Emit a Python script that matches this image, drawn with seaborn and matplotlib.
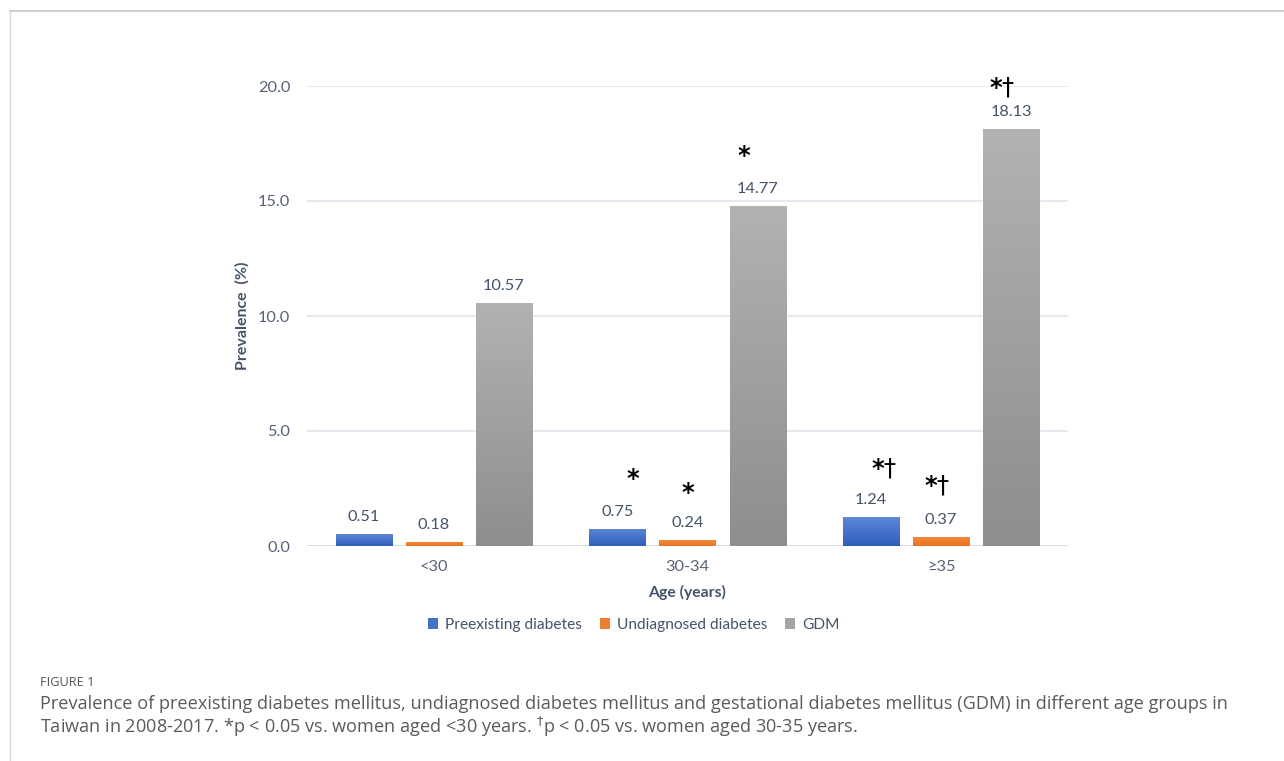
import numpy as np
import pandas as pd
import matplotlib
matplotlib.use("Agg")
import matplotlib.pyplot as plt
import seaborn as sns
from matplotlib.patches import Patch
from matplotlib.lines import Line2D
from matplotlib.colors import LinearSegmentedColormap

# ---- data ----
age_groups = ["<30", "30-34", "≥35"]
series_names = ["Preexisting diabetes", "Undiagnosed diabetes", "GDM"]
preexisting = [0.51, 0.75, 1.24]
undiagnosed = [0.18, 0.24, 0.37]
gdm = [10.57, 14.77, 18.13]
sig_preexisting = ["", "*", "*†"]
sig_undiagnosed = ["", "*", "*†"]
sig_gdm = ["", "*", "*†"]
y_ticks = [0.0, 5.0, 10.0, 15.0, 20.0]

# manual nudges of the significance marks (pixels), as in the original layout
sig_dx = [[0, 16, 13], [0, 1, -4], [0, -14, -9]]
sig_dy = [[0, 52, 49], [0, 49, 52], [0, 52, 42]]

values = [preexisting, undiagnosed, gdm]
sigs = [sig_preexisting, sig_undiagnosed, sig_gdm]
df = pd.DataFrame({
    "Age": [g for s in series_names for g in age_groups],
    "Series": [s for s in series_names for _ in age_groups],
    "Prevalence": [v for vals in values for v in vals],
})

base_colors = ["#4472C4", "#ED7D31", "#A5A5A5"]
grad_colors = [("#5C88D6", "#2E5EBD"), ("#F4893A", "#EC7320"), ("#B2B2B2", "#8E8E8E")]

sns.set_theme(style="white")
plt.rcParams["font.family"] = ["Lato", "DejaVu Sans"]

fig = plt.figure(figsize=(12.84, 7.61), dpi=100)
ax = fig.add_axes([307 / 1284, 1 - 546 / 761, (1068 - 307) / 1284, (546 - 86) / 761])

sns.barplot(data=df, x="Age", y="Prevalence", hue="Series", order=age_groups,
            hue_order=series_names, palette=base_colors, width=0.83, gap=0.2,
            ax=ax, legend=False, saturation=1.0, zorder=3)

ax.set_ylim(0, 20)
ax.set_xlim(-0.5, 2.5)
ax.set_yticks(y_ticks)
ax.set_yticklabels([f"{t:.1f}" for t in y_ticks])
for sp in ax.spines.values():
    sp.set_visible(False)
ax.grid(False)
for t in y_ticks:
    ax.axhline(t, color="#D5DAE3" if t == 0 else "#E3E7EE", lw=1.3, zorder=1)

tick_color = "#586378"
ax.tick_params(axis="both", length=0, labelsize=11.8, colors=tick_color)
ax.tick_params(axis="y", pad=12)
ax.tick_params(axis="x", pad=10)
ax.set_xlabel("Age (years)", fontsize=11.3, fontweight="bold", color="#44546A", labelpad=8)
ax.set_ylabel("Prevalence  (%)", fontsize=11.5, fontweight="bold", color="#44546A", labelpad=6)

# gradients + labels
for ci, cont in enumerate(ax.containers):
    cmap = LinearSegmentedColormap.from_list("g", [grad_colors[ci][1], grad_colors[ci][0]])
    for bi, bar in enumerate(cont):
        x0, y0 = bar.get_x(), bar.get_y()
        w, h = bar.get_width(), bar.get_height()
        grad = np.linspace(0, 1, 256).reshape(-1, 1)
        im = ax.imshow(grad, cmap=cmap, extent=[x0, x0 + w, y0, y0 + h],
                       origin="lower", aspect="auto", zorder=4)
        im.set_clip_path(bar)
        val = values[ci][bi]
        ax.annotate(f"{val:.2f}", (x0 + w / 2, y0 + h), xytext=(0, 17),
                    textcoords="offset pixels", ha="center", va="center",
                    fontsize=11.8, color="#44546A", zorder=5)
        s = sigs[ci][bi]
        if s:
            label = s.replace("*", r"$\mathbf{*}$")
            ax.annotate(label, (x0 + w / 2, y0 + h),
                        xytext=(sig_dx[ci][bi], sig_dy[ci][bi]),
                        textcoords="offset pixels", ha="center", va="center",
                        fontsize=17.5, color="black", zorder=5,
                        family=["DejaVu Sans"])
ax.set_xlim(-0.5, 2.5)
ax.set_ylim(0, 20)

handles = [Patch(facecolor=c, edgecolor="none") for c in base_colors]
fig.legend(handles, series_names, loc="center", bbox_to_anchor=(634 / 1284, 1 - 625 / 761),
           ncol=3, frameon=False, fontsize=11.2, handlelength=0.65, handleheight=0.65,
           handletextpad=0.45, columnspacing=1.15, labelcolor="#44546A")

# caption
cap_font = ["Open Sans", "DejaVu Sans"]
fig.text(40 / 1284, 1 - 683 / 761, "FIGURE 1", fontsize=9.2, color="#555555",
         family=cap_font, va="center")
fig.text(40 / 1284, 1 - 704 / 761,
         "Prevalence of preexisting diabetes mellitus, undiagnosed diabetes mellitus and gestational diabetes mellitus (GDM) in different age groups in",
         fontsize=13.05, color="#5A5A5A", family=cap_font, va="center")
fig.text(40 / 1284, 1 - 727 / 761,
         "Taiwan in 2008-2017. *p < 0.05 vs. women aged <30 years. $^{\\dagger}$p < 0.05 vs. women aged 30-35 years.",
         fontsize=13.05, color="#5A5A5A", family=cap_font, va="center")

# page frame
fig.add_artist(Line2D([10 / 1284, 1], [1 - 11 / 761, 1 - 11 / 761], color="#D0D0D0", lw=1.5,
                      transform=fig.transFigure))
fig.add_artist(Line2D([10 / 1284, 10 / 1284], [0, 1 - 11 / 761], color="#D8D8D8", lw=1.0,
                      transform=fig.transFigure))

fig.savefig("out.png", dpi=100)
